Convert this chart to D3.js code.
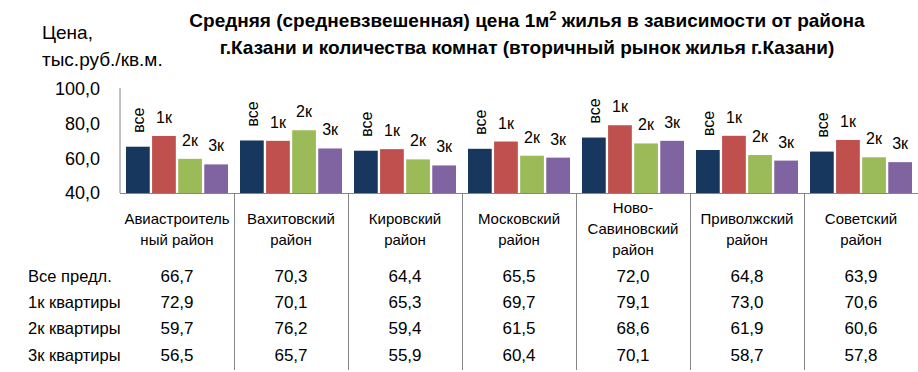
<!DOCTYPE html>
<html><head><meta charset="utf-8">
<script src="https://cdn.jsdelivr.net/npm/d3@7"></script>
<style>
html,body{margin:0;padding:0;background:#fff;}
svg{display:block;font-family:"Liberation Sans",Arial,sans-serif;}
</style></head>
<body>
<svg id="chart" width="918" height="372"></svg>
<script>
const categories = ["Авиастроитель\nный район","Вахитовский\nрайон","Кировский\nрайон","Московский\nрайон","Ново-\nСавиновский\nрайон","Приволжский\nрайон","Советский\nрайон"];
const seriesNames = ["Все предл.","1к квартиры","2к квартиры","3к квартиры"];
const seriesShort = ["все","1к","2к","3к"];
const seriesColors = ["#17375E","#C0504D","#9BBB59","#8064A2"];
const valsAll = [66.7,70.3,64.4,65.5,72.0,64.8,63.9];
const vals1k  = [72.9,70.1,65.3,69.7,79.1,73.0,70.6];
const vals2k  = [59.7,76.2,59.4,61.5,68.6,61.9,60.6];
const vals3k  = [56.5,65.7,55.9,60.4,70.1,58.7,57.8];
const yTicks = [40,60,80,100];
const titleLines = [["Средняя (средневзвешенная) цена 1м","2"," жилья в зависимости от района"],["г.Казани и количества комнат (вторичный рынок жилья г.Казани)"]];
const yTitle = ["Цена,","тыс.руб./кв.м."];

const series = [valsAll, vals1k, vals2k, vals3k];
const svg = d3.select("#chart");
const L = 120, R = 918, T = 89, B = 193;
const fmt = v => v.toFixed(1).replace(".", ",");

const x0 = d3.scaleBand().domain(d3.range(categories.length)).range([L, R]).paddingInner(0).paddingOuter(0);
const x1 = d3.scaleBand().domain(d3.range(series.length)).range([0, x0.bandwidth()]).paddingInner(0.09).paddingOuter(0.23);
const y = d3.scaleLinear().domain([40, 100]).range([B, T]);

// title
svg.append("g").selectAll("text").data(titleLines).join("text")
  .attr("x", 527).attr("y", (d,i)=>27+i*27).attr("text-anchor","middle")
  .attr("font-weight","bold").attr("font-size",19).attr("fill","#000")
  .each(function(parts){
    d3.select(this).selectAll("tspan").data(parts).join("tspan")
      .attr("font-size",(p,j)=>j===1?13:null)
      .attr("dy",(p,j)=>j===1?-7:(j===2?7:null))
      .text(p=>p);
  });

// y title
svg.append("g").selectAll("text").data(yTitle).join("text")
  .attr("x", 42).attr("y", (d,i)=>39+i*27).attr("font-size",19).attr("fill","#000").text(d=>d);

// y axis
const yAxis = d3.axisLeft(y).tickValues(yTicks).tickSize(0).tickPadding(20).tickFormat(fmt);
const ga = svg.append("g").attr("transform",`translate(${L},0)`).call(yAxis);
ga.select(".domain").attr("stroke","#868686").attr("d",`M0,${T-1}V${B}`);
ga.selectAll("text").attr("font-size",18).attr("fill","#000").attr("font-family","Liberation Sans, Arial, sans-serif");

// x axis line
svg.append("line").attr("x1",L).attr("x2",R).attr("y1",B+0.5).attr("y2",B+0.5).attr("stroke","#868686");

// separators through table
svg.append("g").selectAll("line").data(d3.range(1, categories.length)).join("line")
  .attr("x1",d=>Math.round(x0(d))+0.5).attr("x2",d=>Math.round(x0(d))+0.5)
  .attr("y1",B).attr("y2",370).attr("stroke","#868686");

// bars
const groups = svg.append("g").selectAll("g").data(categories.map((c,i)=>i)).join("g")
  .attr("transform",i=>`translate(${x0(i)},0)`);
groups.selectAll("rect").data(i=>series.map((s,k)=>({k, v:s[i]}))).join("rect")
  .attr("x",d=>x1(d.k)).attr("width",x1.bandwidth())
  .attr("y",d=>y(d.v)).attr("height",d=>B-y(d.v)).attr("fill",d=>seriesColors[d.k]);

// bar labels
groups.selectAll("text.lbl").data(i=>series.map((s,k)=>({k, v:s[i]}))).join("text")
  .attr("class","lbl").attr("font-size",16).attr("fill","#000")
  .each(function(d){
    const cx = x1(d.k)+x1.bandwidth()/2;
    const el = d3.select(this);
    if(d.k===0){
      el.attr("transform",`translate(${cx+6},${y(d.v)-14}) rotate(-90)`).attr("text-anchor","start");
    } else {
      el.attr("x",cx).attr("y",y(d.v)-13).attr("text-anchor","middle");
    }
  }).text(d=>seriesShort[d.k]);

// category labels
svg.append("g").selectAll("text").data(categories).join("text")
  .attr("font-size",15).attr("fill","#000").attr("text-anchor","middle")
  .each(function(c,i){
    const lines = c.split("\n");
    const cx = x0(i)+x0.bandwidth()/2;
    const lh = 21;
    const y0 = 234 - (lines.length-1)*lh/2;
    d3.select(this).selectAll("tspan").data(lines).join("tspan")
      .attr("x",cx).attr("y",(l,j)=>y0+j*lh).text(l=>l);
  });

// table
const rowY = [282, 308, 334, 361];
svg.append("g").selectAll("text").data(seriesNames).join("text")
  .attr("x",28).attr("y",(d,i)=>rowY[i]).attr("font-size",16.5).attr("fill","#000").text(d=>d);
series.forEach((s,k)=>{
  svg.append("g").selectAll("text").data(s).join("text")
    .attr("x",(v,i)=>x0(i)+x0.bandwidth()/2).attr("y",rowY[k])
    .attr("text-anchor","middle").attr("font-size",17).attr("fill","#000").text(v=>fmt(v));
});
</script>
</body></html>
